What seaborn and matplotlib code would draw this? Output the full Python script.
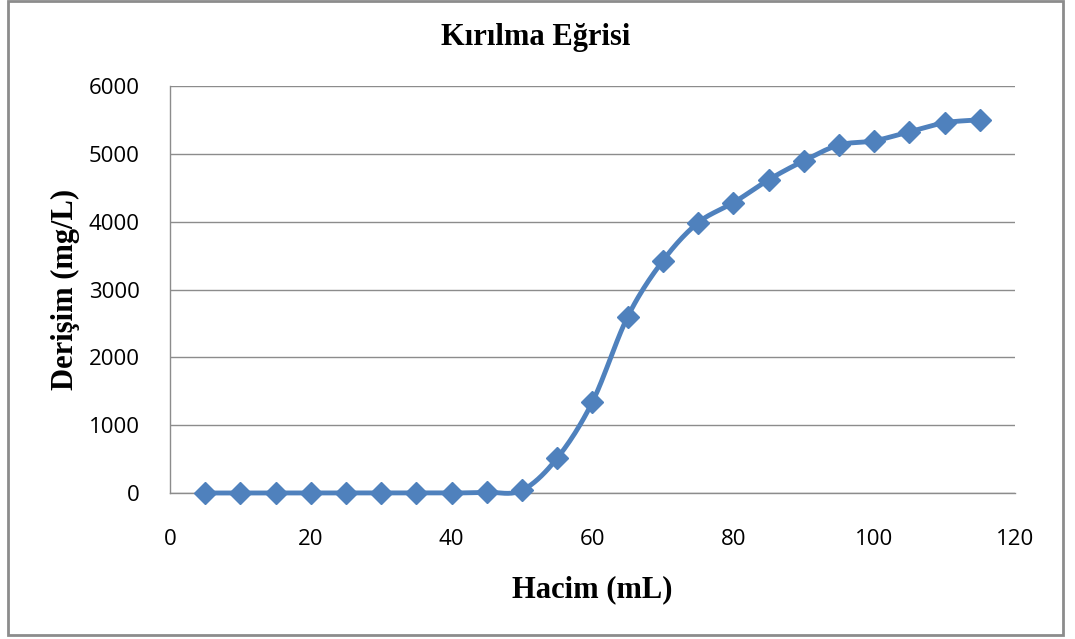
import numpy as np
import pandas as pd
import seaborn as sns
import matplotlib
matplotlib.use("Agg")
import matplotlib.pyplot as plt
from matplotlib.patches import Rectangle

# Data
hacim = [5, 10, 15, 20, 25, 30, 35, 40, 45, 50, 55, 60, 65, 70, 75, 80, 85, 90, 95, 100, 105, 110, 115]
derisim = [0, 0, 0, 0, 0, 0, 0, 0, 10, 40, 516, 1345, 2600, 3425, 3985, 4278, 4617, 4897, 5130, 5192, 5325, 5458, 5502]
x_ticks = [0, 20, 40, 60, 80, 100, 120]
y_ticks = [0, 1000, 2000, 3000, 4000, 5000, 6000]
title = "Kırılma Eğrisi"
x_label = "Hacim (mL)"
y_label = "Derişim (mg/L)"

sns.set_style("white")
plt.rcParams["font.family"] = ["Open Sans", "DejaVu Sans"]
plt.rcParams["text.color"] = "black"
plt.rcParams["axes.labelcolor"] = "black"

def smooth(xs, ys, n=20):
    # Excel-like smoothed line (cardinal spline through data points)
    xs = np.asarray(xs, float); ys = np.asarray(ys, float)
    px = np.concatenate([[2*xs[0]-xs[1]], xs, [2*xs[-1]-xs[-2]]])
    py = np.concatenate([[2*ys[0]-ys[1]], ys, [2*ys[-1]-ys[-2]]])
    ox, oy = [], []
    t = np.linspace(0, 1, n, endpoint=False)
    for i in range(1, len(px)-2):
        p0, p1, p2, p3 = [np.array([px[j], py[j]]) for j in (i-1, i, i+1, i+2)]
        c1 = p1 + (p2 - p0) / 6.0
        c2 = p2 - (p3 - p1) / 6.0
        for tt in t:
            b = ((1-tt)**3)*p1 + 3*((1-tt)**2)*tt*c1 + 3*(1-tt)*tt**2*c2 + tt**3*p2
            ox.append(b[0]); oy.append(b[1])
    ox.append(xs[-1]); oy.append(ys[-1])
    return np.array(ox), np.array(oy)

sx, sy = smooth(hacim, derisim)
curve = pd.DataFrame({"x": sx, "y": sy})
df = pd.DataFrame({"Hacim": hacim, "Derisim": derisim})

fig = plt.figure(figsize=(10.75, 6.39), dpi=100)
ax = fig.add_axes([170/1075, 1-493/639, (1015-170)/1075, (493-86)/639])

color = "#4F81BD"
ax.yaxis.grid(True, color="#8C8C8C", linewidth=1.0, zorder=0)
ax.set_axisbelow(True)
sns.lineplot(data=curve, x="x", y="y", ax=ax, color=color, linewidth=3.5, sort=False,
             estimator=None, clip_on=False, zorder=3)
ax.plot(df["Hacim"], df["Derisim"], linestyle="none", marker="D", markersize=11,
        color=color, markeredgecolor=color, clip_on=False, zorder=4)

ax.set_xlim(0, 120)
ax.set_ylim(0, 6000)
ax.set_xticks(x_ticks)
ax.set_yticks(y_ticks)
ax.xaxis.grid(False)
for s in ["top", "right"]:
    ax.spines[s].set_visible(False)
for s in ["left", "bottom"]:
    ax.spines[s].set_color("#8C8C8C")
    ax.spines[s].set_linewidth(1.0)
    ax.spines[s].set_zorder(1)
ax.tick_params(axis="both", length=0, labelsize=16, colors="#000000")
ax.tick_params(axis="y", pad=22)
ax.tick_params(axis="x", pad=26)
for lab in ax.get_xticklabels() + ax.get_yticklabels():
    lab.set_color("black")

serif = ["Liberation Serif", "DejaVu Serif"]
ax.set_xlabel(x_label, fontsize=22, fontweight="bold", family=serif, labelpad=18, color="black")
ax.set_ylabel(y_label, fontsize=22, fontweight="bold", family=serif, labelpad=6, color="black")
fig.text(536/1075, 1-38/639, title, ha="center", va="center", fontsize=22,
         fontweight="bold", family=serif, color="black")

fig.patches.append(Rectangle((8/1075, 4/639), (1063-8)/1075, (638-4)/639,
                             transform=fig.transFigure, fill=False,
                             edgecolor="#8C8C8C", linewidth=2))

fig.savefig("out.png", dpi=100)
